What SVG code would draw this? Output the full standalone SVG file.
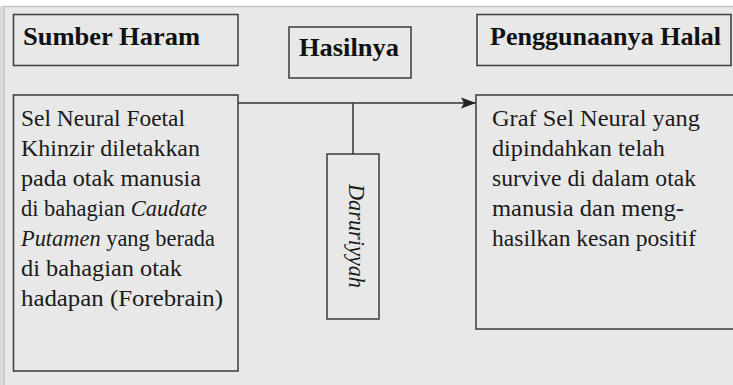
<svg xmlns="http://www.w3.org/2000/svg" width="733" height="385" viewBox="0 0 733 385">
<style>
.box{fill:none;stroke:#444;stroke-width:1.6}
.hd{font-family:'Liberation Serif','DejaVu Serif',serif;font-weight:bold;font-size:26px;fill:#111}
.tx{font-family:'Liberation Serif','DejaVu Serif',serif;font-size:23.5px;fill:#1a1a1a}
.it{font-style:italic}
.cn{fill:none;stroke:#333;stroke-width:1.5}
</style>
<defs>
<marker id="ah" markerWidth="16" markerHeight="12" refX="15" refY="6" orient="auto" markerUnits="userSpaceOnUse">
<path d="M0,0.5 L15,6 L0,11.5 L3,6 Z" fill="#222"/>
</marker>
</defs>
<rect x="0" y="0" width="733" height="385" fill="#ffffff"/>
<rect x="0" y="6" width="4" height="379" fill="#dcdcdc"/>
<rect x="4" y="6.5" width="740" height="390" fill="#e8e8e8" stroke="#c2c2c2" stroke-width="1.5"/>

<g id="connectors">
<line class="cn" x1="238" y1="103" x2="476" y2="103" marker-end="url(#ah)"/>
<line class="cn" x1="353" y1="103" x2="353" y2="154"/>
</g>

<g id="sumber-haram">
<rect class="box" x="13.5" y="14.5" width="224.5" height="51"/>
<text class="hd" x="23" y="45" textLength="177" lengthAdjust="spacingAndGlyphs">Sumber Haram</text>
</g>

<g id="hasilnya">
<rect class="box" x="289" y="27" width="122" height="51"/>
<text class="hd" x="299" y="56" textLength="100" lengthAdjust="spacingAndGlyphs">Hasilnya</text>
</g>

<g id="penggunaanya-halal">
<rect class="box" x="477" y="14.5" width="254" height="51"/>
<text class="hd" x="490" y="45" textLength="231" lengthAdjust="spacingAndGlyphs">Penggunaanya Halal</text>
</g>

<g id="sel-neural">
<rect class="box" x="13.5" y="95" width="224.5" height="276"/>
<text class="tx" x="21" y="126" textLength="164" lengthAdjust="spacingAndGlyphs">Sel Neural Foetal</text>
<text class="tx" x="21" y="156" textLength="179" lengthAdjust="spacingAndGlyphs">Khinzir diletakkan</text>
<text class="tx" x="21" y="186" textLength="180" lengthAdjust="spacingAndGlyphs">pada otak manusia</text>
<text class="tx" x="21" y="216" textLength="186" lengthAdjust="spacingAndGlyphs">di bahagian <tspan class="it">Caudate</tspan></text>
<text class="tx" x="21" y="246" textLength="194" lengthAdjust="spacingAndGlyphs"><tspan class="it">Putamen</tspan> yang berada</text>
<text class="tx" x="21" y="276" textLength="161" lengthAdjust="spacingAndGlyphs">di bahagian otak</text>
<text class="tx" x="21" y="306" textLength="202" lengthAdjust="spacingAndGlyphs">hadapan (Forebrain)</text>
</g>

<g id="daruriyyah">
<rect class="box" x="327" y="154" width="52" height="165"/>
<text class="tx it" transform="translate(349,236) rotate(90)" text-anchor="middle" font-size="24" textLength="104" lengthAdjust="spacingAndGlyphs">Daruriyyah</text>
</g>

<g id="graf-sel-neural">
<rect class="box" x="476" y="95" width="270" height="234"/>
<text class="tx" x="492" y="126" textLength="208" lengthAdjust="spacingAndGlyphs">Graf  Sel Neural yang</text>
<text class="tx" x="492" y="156" textLength="173" lengthAdjust="spacingAndGlyphs">dipindahkan telah</text>
<text class="tx" x="492" y="186" textLength="204" lengthAdjust="spacingAndGlyphs">survive di dalam otak</text>
<text class="tx" x="492" y="216" textLength="192" lengthAdjust="spacingAndGlyphs">manusia dan meng-</text>
<text class="tx" x="492" y="246" textLength="204" lengthAdjust="spacingAndGlyphs">hasilkan kesan positif</text>
</g>
</svg>
